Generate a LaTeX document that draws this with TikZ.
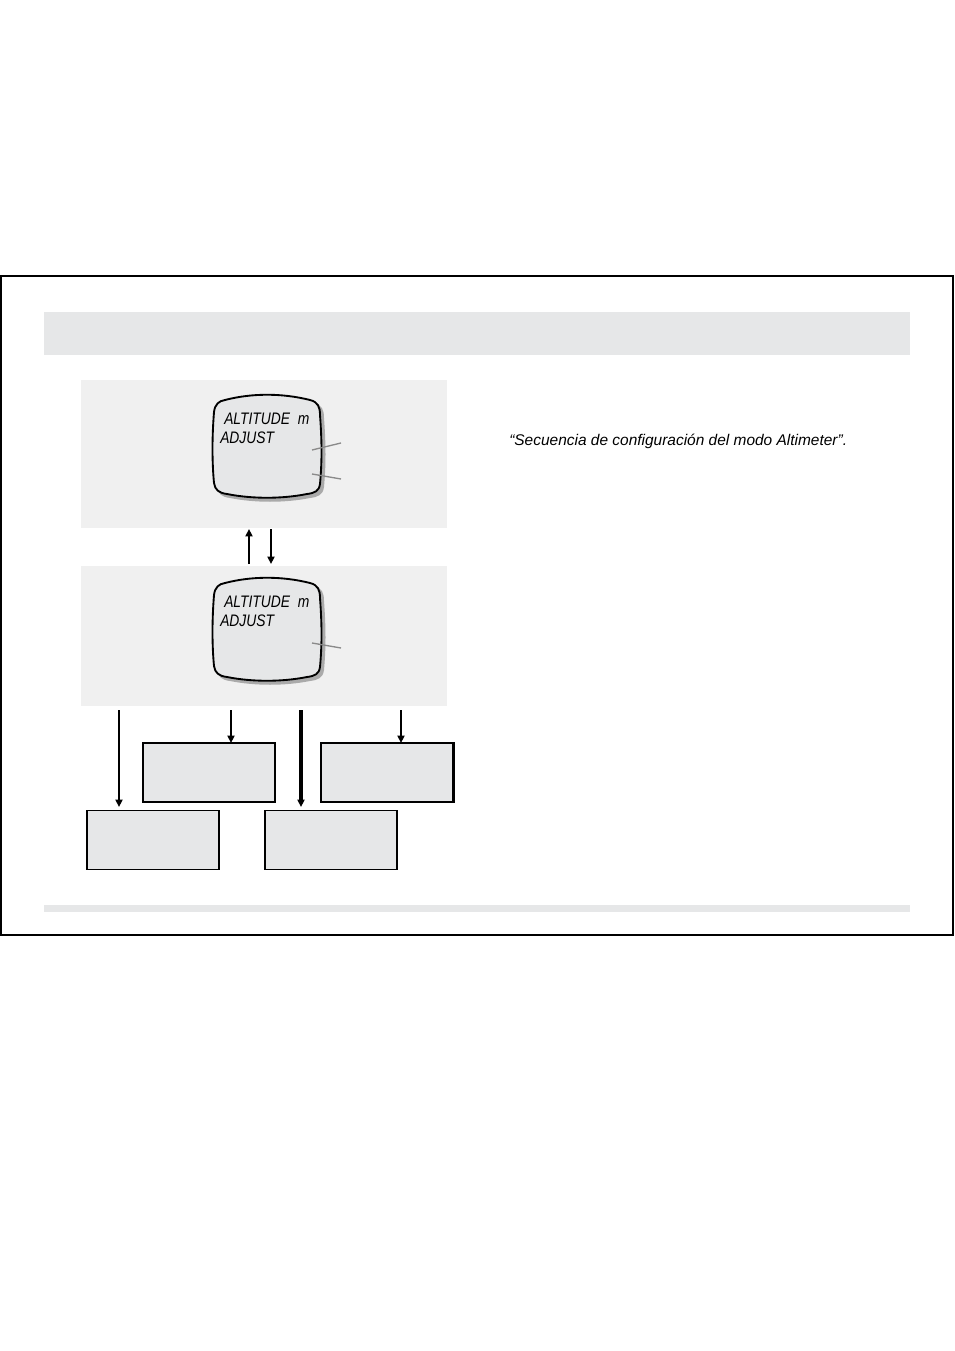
\documentclass[tikz,border=0pt]{standalone}
\usepackage{fontspec}
\setmainfont{Liberation Sans}
\newfontfamily\condfont[FakeStretch=0.83]{Liberation Sans}
\usetikzlibrary{arrows.meta}
\definecolor{bargray}{HTML}{E6E7E8}
\definecolor{panelgray}{HTML}{F0F0F0}
\definecolor{shadowgray}{HTML}{AAAAAA}
\definecolor{leadgray}{HTML}{8A8A8A}
\tikzset{
  panel/.style={fill=panelgray, draw=none, minimum width=274.5pt, inner sep=0pt},
  boxnode/.style={fill=bargray, draw=black, line width=1.1pt, minimum width=99pt, minimum height=44.25pt, inner sep=0pt},
  arr/.style={line width=1.6pt, -{Triangle[length=5.5pt,width=5.2pt]}},
  lcdtext/.style={font=\condfont\fontsize{12.5}{14}\selectfont\itshape, anchor=base west, inner sep=0pt},
  lead/.style={draw=leadgray, line width=1pt},
}
\newcommand\lcdshape[1]{%
  \begin{scope}[shift={(0,#1)}]
    \fill[shadowgray] (228,403) .. controls (255,396) and (285,396) .. (314,403)
      .. controls (322,405) and (324,410) .. (324,418)
      .. controls (326,445) and (326,465) .. (324,487)
      .. controls (323,495) and (318,497) .. (310,498)
      .. controls (285,503) and (255,503) .. (230,498)
      .. controls (222,497) and (218,494) .. (217,487)
      .. controls (215,465) and (215,440) .. (217,415)
      .. controls (218,407) and (222,404) .. (228,403) -- cycle;
    \filldraw[fill=bargray, draw=black, line width=1.4pt]
      (225,400) .. controls (252,393) and (282,393) .. (310,400)
      .. controls (318,402) and (320,407) .. (320,415)
      .. controls (322,442) and (322,462) .. (320,484)
      .. controls (319,491) and (315,493) .. (307,494)
      .. controls (282,499) and (252,499) .. (227,494)
      .. controls (219,493) and (215,490) .. (214,483)
      .. controls (212,462) and (212,437) .. (214,412)
      .. controls (215,404) and (219,401) .. (225,400) -- cycle;
  \end{scope}}
\begin{document}
\begin{tikzpicture}[x=0.75pt,y=-0.75pt]
\useasboundingbox (0,0) rectangle (954,1351);
% outer frame
\draw[line width=1.1pt] (1,276) rectangle (953,935);
% header bar and footer bar
\node[fill=bargray, minimum width=649.5pt, minimum height=32.25pt, inner sep=0pt] (header) at (477,333.5) {};
\node[fill=bargray, minimum width=649.5pt, minimum height=5.25pt, inner sep=0pt] (footer) at (477,908.5) {};
% panels
\node[panel, minimum height=111pt] (p1) at (264,454) {};
\node[panel, minimum height=105pt] (p2) at (264,636) {};
% LCDs
\lcdshape{0}
\lcdshape{183}
\node[lcdtext] (t1a) at (224,424) {ALTITUDE\ \ m};
\node[lcdtext] (t1b) at (220,443) {ADJUST};
\node[lcdtext] (t2a) at (224,607) {ALTITUDE\ \ m};
\node[lcdtext] (t2b) at (220,626) {ADJUST};
\coordinate (l1a) at (312,450); \coordinate (l1b) at (341,443);
\coordinate (l2a) at (312,474); \coordinate (l2b) at (341,479);
\coordinate (l3a) at (312,643); \coordinate (l3b) at (341,648);
\draw[lead] (l1a) -- (l1b);
\draw[lead] (l2a) -- (l2b);
\draw[lead] (l3a) -- (l3b);
% arrows between panels
\coordinate (u1) at (249,564); \coordinate (u2) at (249,529);
\coordinate (d1) at (271,529); \coordinate (d2) at (271,564);
\draw[arr] (u1) -- (u2);
\draw[arr] (d1) -- (d2);
% boxes
\node[boxnode] (b1) at (209,772.5) {};
\node[boxnode] (b2) at (387,772.5) {};
\draw[line width=1.2pt] ([xshift=0.6pt]b2.north east) -- ([xshift=0.6pt]b2.south east);
\node[boxnode] (b3) at (153,840) {};
\node[boxnode] (b4) at (331,840) {};
% arrows from panel 2
\coordinate (s1) at (119,710); \coordinate (e1) at (119,807);
\coordinate (s2) at (231,710); \coordinate (e2) at (231,743);
\coordinate (s3) at (301,710); \coordinate (e3) at (301,807);
\coordinate (s4) at (401,710); \coordinate (e4) at (401,743);
\draw[arr] (s1) -- (e1);
\draw[arr] (s2) -- (e2);
\draw[arr, line width=2.3pt] (s3) -- (e3);
\draw[arr] (s4) -- (e4);
% caption
\node[font=\fontsize{11.6}{13}\selectfont\itshape, anchor=base west, inner sep=0pt] (cap) at (509,445) {“Secuencia de configuración del modo Altimeter”.};
\end{tikzpicture}
\end{document}
